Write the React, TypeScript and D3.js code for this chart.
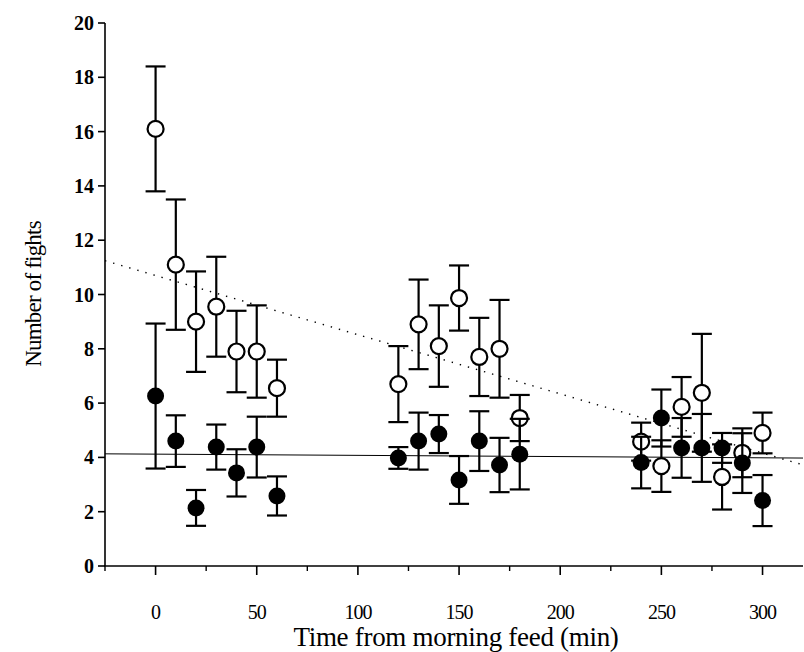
import React from "react";
import * as d3 from "d3";

const times = [0, 10, 20, 30, 40, 50, 60, 120, 130, 140, 150, 160, 170, 180, 240, 250, 260, 270, 280, 290, 300];
const openMean = [16.1, 11.1, 9.0, 9.55, 7.9, 7.9, 6.55, 6.7, 8.9, 8.1, 9.87, 7.7, 8.0, 5.45, 4.58, 3.68, 5.86, 6.38, 3.28, 4.17, 4.9];
const openErr = [2.3, 2.4, 1.85, 1.84, 1.5, 1.7, 1.05, 1.4, 1.65, 1.5, 1.2, 1.44, 1.8, 0.85, 0.7, 0.95, 1.1, 2.17, 1.2, 0.9, 0.75];
const filledMean = [6.26, 4.6, 2.14, 4.38, 3.43, 4.38, 2.58, 3.98, 4.6, 4.86, 3.17, 4.6, 3.72, 4.12, 3.81, 5.45, 4.35, 4.35, 4.35, 3.79, 2.41];
const filledErr = [2.67, 0.95, 0.66, 0.83, 0.87, 1.12, 0.72, 0.4, 1.05, 0.7, 0.88, 1.1, 1.0, 1.3, 0.95, 1.05, 1.1, 1.25, 0.55, 1.1, 0.94];

const yTicks = [0, 2, 4, 6, 8, 10, 12, 14, 16, 18, 20];
const xMajorTicks = [0, 50, 100, 150, 200, 250, 300];
const xMinorTicks = [-25, 25, 75, 125, 175, 225, 275];

// regression lines: [intercept, slope]
const openFit = [10.7, -0.0218];
const filledFit = [4.12, -0.00045];
const fitRange = [-25, 320];

const W = 804;
const H = 652;

export default function App() {
  const x = d3.scaleLinear().domain([-25, 320]).range([105, 803]);
  const y = d3.scaleLinear().domain([0, 20]).range([566, 23]);
  const serif = { fontFamily: "Liberation Serif, Times New Roman, Times, DejaVu Serif, serif" };
  const r = 8;
  const capHalf = 10;

  const fitLine = (fit: number[]) =>
    d3.line<number>()
      .x((t) => x(t))
      .y((t) => y(fit[0] + fit[1] * t))(fitRange) || "";

  const errorBars = (mean: number[], err: number[], key: string) =>
    times.map((t, i) => {
      const cx = x(t);
      const yt = y(mean[i] + err[i]);
      const yb = y(mean[i] - err[i]);
      return (
        <g key={key + i} stroke="#000" strokeWidth={2.2}>
          <line x1={cx} x2={cx} y1={yt} y2={yb} />
          <line x1={cx - capHalf} x2={cx + capHalf} y1={yt} y2={yt} />
          <line x1={cx - capHalf} x2={cx + capHalf} y1={yb} y2={yb} />
        </g>
      );
    });

  return (
    <svg width={W} height={H} style={{ position: "absolute", left: 0, top: 0, background: "#fff" }}>
      <rect x={0} y={0} width={W} height={H} fill="#fff" />
      {/* regression lines */}
      <path d={fitLine(filledFit)} fill="none" stroke="#000" strokeWidth={1} />
      <path d={fitLine(openFit)} fill="none" stroke="#000" strokeWidth={1.4} strokeDasharray="1.4 7" />

      {/* open series */}
      {errorBars(openMean, openErr, "oe")}
      {times.map((t, i) => (
        <circle key={"oc" + i} cx={x(t)} cy={y(openMean[i])} r={r} fill="#fff" stroke="#000" strokeWidth={2.2} />
      ))}

      {/* filled series */}
      {errorBars(filledMean, filledErr, "fe")}
      {times.map((t, i) => (
        <circle key={"fc" + i} cx={x(t)} cy={y(filledMean[i])} r={r + 0.5} fill="#000" />
      ))}

      {/* axes */}
      <line x1={x(-25)} x2={x(-25)} y1={y(0)} y2={y(20)} stroke="#000" strokeWidth={1.6} />
      <line x1={x(-25) - 1} x2={803} y1={y(0)} y2={y(0)} stroke="#000" strokeWidth={1.6} />
      {yTicks.map((v) => (
        <g key={"yt" + v}>
          <line x1={x(-25) - 7} x2={x(-25)} y1={y(v)} y2={y(v)} stroke="#000" strokeWidth={1.6} />
          <text x={x(-25) - 11} y={y(v)} dy="0.35em" textAnchor="end" style={serif} fontSize={20} fontWeight={600}>
            {v}
          </text>
        </g>
      ))}
      {xMajorTicks.map((v) => (
        <g key={"xt" + v}>
          <line x1={x(v)} x2={x(v)} y1={y(0)} y2={y(0) + 9} stroke="#000" strokeWidth={1.6} />
          <text x={x(v)} y={612} dy="0.35em" textAnchor="middle" style={serif} fontSize={20} letterSpacing={-1}>
            {v}
          </text>
        </g>
      ))}
      {xMinorTicks.map((v) => (
        <line key={"xm" + v} x1={x(v)} x2={x(v)} y1={y(0)} y2={y(0) + 5} stroke="#000" strokeWidth={1.4} />
      ))}

      {/* axis titles */}
      <text x={456} y={637} dy="0.35em" textAnchor="middle" style={serif} fontSize={27} letterSpacing={-0.3}>
        Time from morning feed (min)
      </text>
      <text
        transform={`translate(33, 294) rotate(-90)`}
        dy="0.35em"
        textAnchor="middle"
        style={serif}
        fontSize={23}
        letterSpacing={-0.8}
      >
        Number of fights
      </text>
    </svg>
  );
}
